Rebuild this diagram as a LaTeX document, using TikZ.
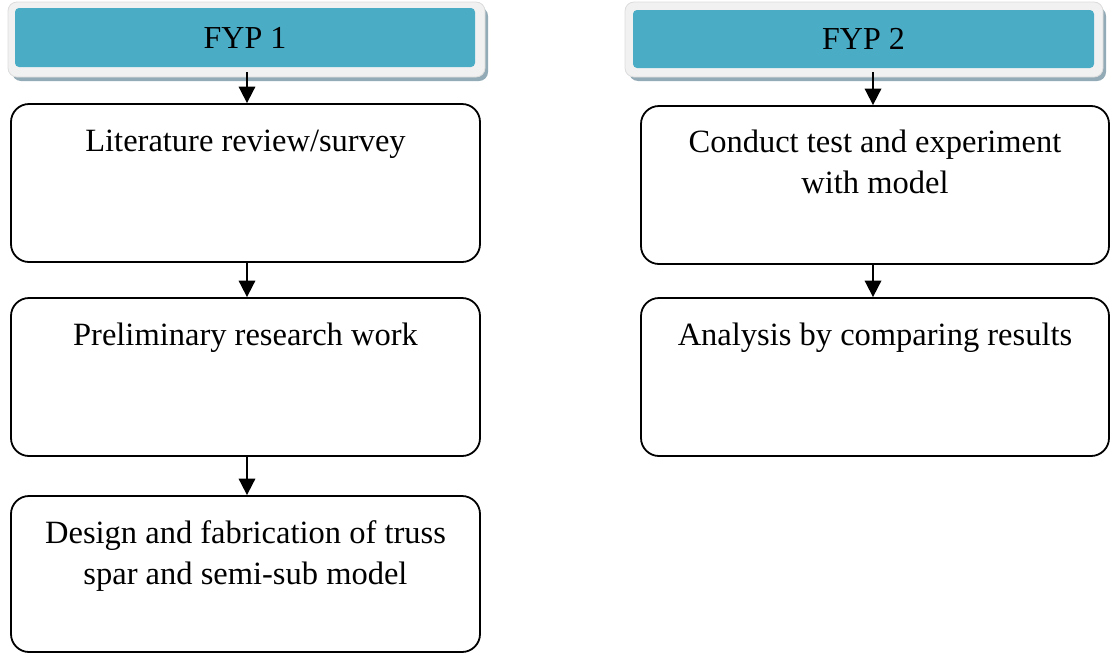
\documentclass[tikz,border=0pt]{standalone}
\usepackage{fontspec}
\setmainfont{Liberation Serif}
\usetikzlibrary{arrows.meta,positioning}
\definecolor{headteal}{HTML}{4BACC6}
\definecolor{headframe}{HTML}{F1F1F1}
\definecolor{headedge}{HTML}{DCDCDC}
\definecolor{headshadow}{HTML}{93ABB6}
\newcommand{\topstrut}{\rule{0pt}{24pt}}
\tikzset{
  stagebox/.style={draw=black, line width=1.8pt, rounded corners=18pt, fill=white},
  headframe/.style={fill=headframe, draw=headedge, line width=0.8pt, rounded corners=9pt},
  headshade/.style={fill=headshadow, rounded corners=9pt},
  headcore/.style={fill=headteal, rounded corners=4pt, inner sep=0pt,
                   font=\fontsize{32}{38}\selectfont},
  boxtext/.style={align=center, anchor=north, inner sep=0pt,
                  font=\fontsize{32.5}{41}\selectfont},
  flow/.style={-{Triangle[length=16.5pt,width=16.5pt]}, line width=1.8pt},
}
\begin{document}
\begin{tikzpicture}[x=1pt,y=-1pt]
\useasboundingbox (0,0) rectangle (1110,654);

% header bars with drop shadow and light frame
\fill[headshade] (12,7) rectangle (488,81);
\draw[headframe] (8,2) rectangle (485,77);
\node[headcore, minimum width=460pt, minimum height=59pt] (h1) at (245,37.5) {FYP 1};

\fill[headshade] (629,7) rectangle (1106,81);
\draw[headframe] (625,2) rectangle (1103,77);
\node[headcore, minimum width=461pt, minimum height=58pt] (h2) at (863.5,39) {FYP 2};

% stage boxes, first semester
\node[stagebox, minimum width=469pt, minimum height=158pt] (l1) at (245.5,183) {};
\node[stagebox, minimum width=469pt, minimum height=158pt] (l2) at (245.5,377) {};
\node[stagebox, minimum width=469pt, minimum height=156pt] (l3) at (245.5,574) {};

% stage boxes, second semester
\node[stagebox, minimum width=468pt, minimum height=158pt] (r1) at (875,185) {};
\node[stagebox, minimum width=468pt, minimum height=158pt] (r2) at (875,377) {};

% box captions
\node[boxtext] (t1) at ([yshift=-24pt]l1.north) {\topstrut Literature review/survey};
\node[boxtext] (t2) at ([yshift=-24pt]l2.north) {\topstrut Preliminary research work};
\node[boxtext] (t3) at ([yshift=-24pt]l3.north) {\topstrut Design and fabrication of truss\\spar and semi-sub model};
\node[boxtext] (t4) at ([yshift=-23pt]r1.north) {\topstrut Conduct test and experiment\\with model};
\node[boxtext] (t5) at ([yshift=-24pt]r2.north) {\topstrut Analysis by comparing results};

% connectors
\coordinate (a1) at (247,72);
\coordinate (a2) at (873,72);
\draw[flow] (a1) -- (a1 |- l1.north);
\draw[flow] (a1 |- l1.south) -- (a1 |- l2.north);
\draw[flow] (a1 |- l2.south) -- (a1 |- l3.north);
\draw[flow] (a2) -- (a2 |- r1.north);
\draw[flow] (a2 |- r1.south) -- (a2 |- r2.north);
\end{tikzpicture}
\end{document}
